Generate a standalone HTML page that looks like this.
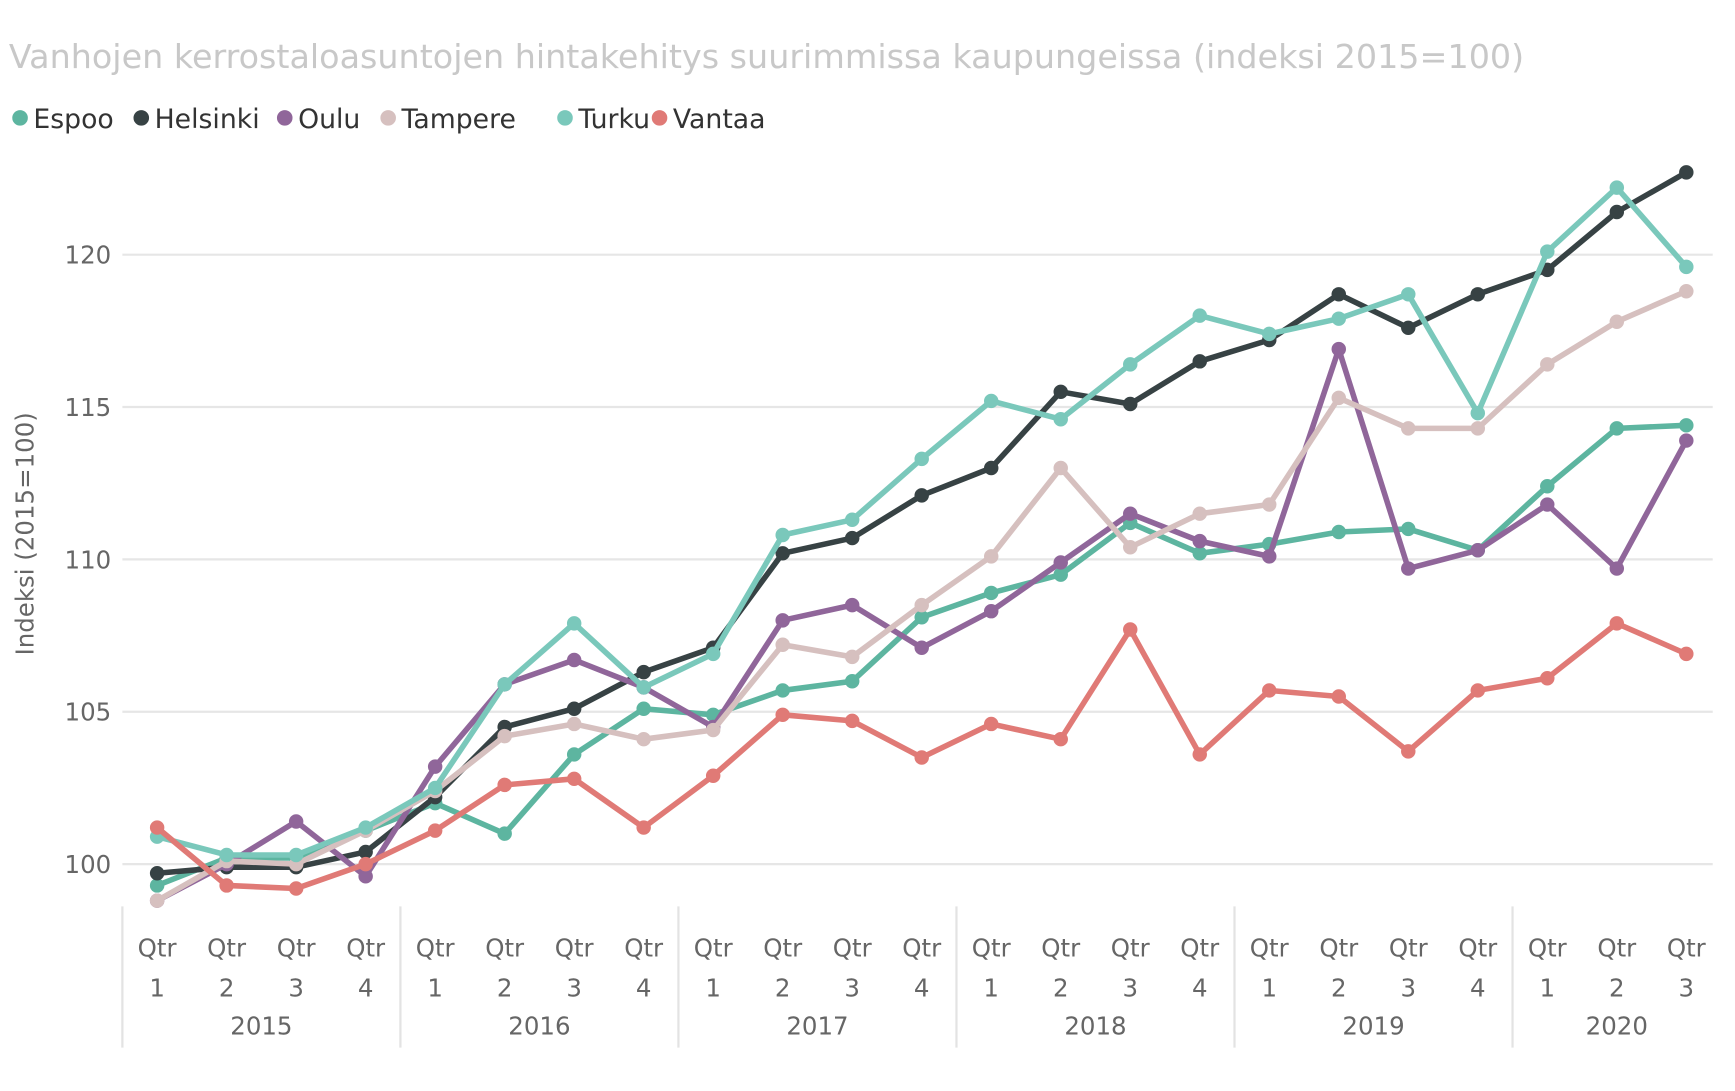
<!DOCTYPE html>
<html><head><meta charset="utf-8"><style>
html,body{margin:0;padding:0;background:#fff;}
svg{display:block;font-family:"DejaVu Sans","Liberation Sans",sans-serif;}
</style></head><body>
<svg id="chart" width="1735" height="1091" viewBox="0 0 1560 981" xmlns="http://www.w3.org/2000/svg">
<text x="8" y="61" font-size="30" fill="#c8c8c8">Vanhojen kerrostaloasuntojen hintakehitys suurimmissa kaupungeissa (indeksi 2015=100)</text>
<g id="legend"></g>
<g id="grid"></g>
<g id="xaxis"></g>
<text transform="translate(30,480) rotate(-90)" text-anchor="middle" font-size="22" fill="#666">Indeksi (2015=100)</text>
<g id="series"></g>
</svg>
<script>
const names=["Espoo","Helsinki","Oulu","Tampere","Turku","Vantaa"];
const colors=["#5db5a0","#374244","#90669a","#d6c0bf","#7ac8bb","#e07a76"];
const years=["2015","2016","2017","2018","2019","2020"];
const yTicks=[100,105,110,115,120];
const espoo=[99.3,100.2,100.2,101.1,102.0,101.0,103.6,105.1,104.9,105.7,106.0,108.1,108.9,109.5,111.2,110.2,110.5,110.9,111.0,110.3,112.4,114.3,114.4];
const helsinki=[99.7,99.9,99.9,100.4,102.2,104.5,105.1,106.3,107.1,110.2,110.7,112.1,113.0,115.5,115.1,116.5,117.2,118.7,117.6,118.7,119.5,121.4,122.7];
const oulu=[98.8,100.0,101.4,99.6,103.2,105.9,106.7,105.8,104.5,108.0,108.5,107.1,108.3,109.9,111.5,110.6,110.1,116.9,109.7,110.3,111.8,109.7,113.9];
const tampere=[98.8,100.1,100.0,101.1,102.4,104.2,104.6,104.1,104.4,107.2,106.8,108.5,110.1,113.0,110.4,111.5,111.8,115.3,114.3,114.3,116.4,117.8,118.8];
const turku=[100.9,100.3,100.3,101.2,102.5,105.9,107.9,105.8,106.9,110.8,111.3,113.3,115.2,114.6,116.4,118.0,117.4,117.9,118.7,114.8,120.1,122.2,119.6];
const vantaa=[101.2,99.3,99.2,100.0,101.1,102.6,102.8,101.2,102.9,104.9,104.7,103.5,104.6,104.1,107.7,103.6,105.7,105.5,103.7,105.7,106.1,107.9,106.9];
const series=[espoo,helsinki,oulu,tampere,turku,vantaa];
const NS="http://www.w3.org/2000/svg";
const X0=110,QW=62.5;
function xs(i){return X0+QW/2+i*QW;}
function ys(v){return 777-(v-100)*27.4;}
function mk(t,a,p){const e=document.createElementNS(NS,t);for(const k in a)e.setAttribute(k,a[k]);p.appendChild(e);return e;}
const grid=document.getElementById('grid');
yTicks.forEach(t=>{
 const l=mk('line',{x1:110,x2:1540,y1:ys(t),y2:ys(t),stroke:'#e6e6e6','stroke-width':2},grid);
 
 
 const tx=mk('text',{x:100,y:ys(t)+8,'text-anchor':'end','font-size':22,fill:'#666'},grid);
 tx.textContent=t;
 
 
});
const xa=document.getElementById('xaxis');
const n=espoo.length;
for(let y=0;y<years.length;y++){
 const x=X0+y*4*QW;
 const s=mk('line',{x1:x,x2:x,y1:815,y2:942,stroke:'#e3e3e3','stroke-width':2},xa);
 
 
 const nq=Math.min(4,n-y*4);
 const yt=mk('text',{x:x+nq*QW/2,y:930,'text-anchor':'middle','font-size':22,fill:'#666'},xa);
 yt.textContent=years[y];
 
 
}
for(let i=0;i<n;i++){
 const q=mk('text',{x:xs(i),y:860,'text-anchor':'middle','font-size':22,fill:'#666'},xa);
 q.textContent='Qtr';
 
 
 const d=mk('text',{x:xs(i),y:896,'text-anchor':'middle','font-size':22,fill:'#666'},xa);
 d.textContent=(i%4)+1;
 
 
}
const sg=document.getElementById('series');
series.forEach((arr,k)=>{
 const g=mk('g',{},sg);
 
 
 const p=mk('polyline',{points:arr.map((v,i)=>xs(i)+','+ys(v)).join(' '),fill:'none',stroke:colors[k],'stroke-width':5,'stroke-linejoin':'round'},g);
 
 
 arr.forEach((v,i)=>{
  const c=mk('circle',{cx:xs(i),cy:ys(v),r:6.5,fill:colors[k]},g);
  
  
 });
});
const lg=document.getElementById('legend');
const lx=[18,127,256,349,508,593];
names.forEach((nm,k)=>{
 const g=mk('g',{},lg);
 
 
 mk('circle',{cx:lx[k],cy:106,r:7,fill:colors[k]},g);
 const t=mk('text',{x:lx[k]+12,y:115,'font-size':24,fill:'#333'},g);
 t.textContent=nm;
});
</script>
</body></html>
